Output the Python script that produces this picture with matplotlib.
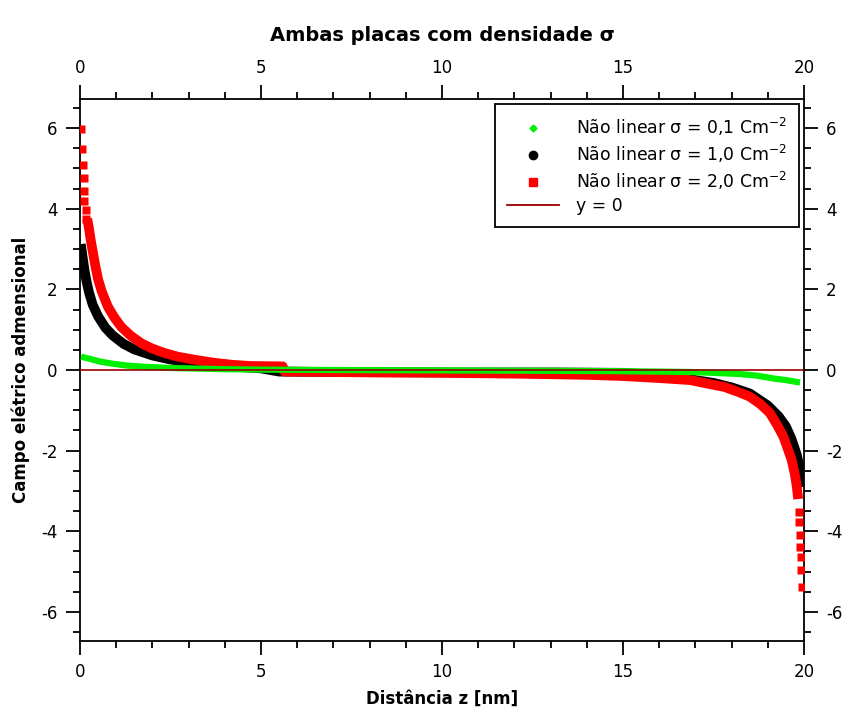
import numpy as np
import matplotlib.pyplot as plt
from matplotlib.lines import Line2D
from matplotlib.ticker import MultipleLocator

# values (z in nm, adimensional field)
green_z = [0.03, 0.3, 0.55, 0.87, 1.29, 1.79, 2.5, 3.0, 4.0, 5.0, 7.0, 10.0, 13.0,
           15.0, 16.0, 16.85, 17.5, 18.23, 18.7, 19.15, 19.5, 19.89]
green_e = [0.33, 0.27, 0.21, 0.16, 0.11, 0.08, 0.05, 0.04, 0.02, 0.01, 0.0, -0.01, -0.02,
           -0.03, -0.04, -0.05, -0.07, -0.10, -0.14, -0.21, -0.25, -0.31]

black_z = [0.02, 0.05, 0.08, 0.12, 0.18, 0.25, 0.35, 0.5, 0.7, 0.9, 1.2, 1.5, 2.0, 2.5,
           3.0, 3.5, 4.0, 4.5, 5.0, 5.5, 7.0, 10.0, 13.0, 15.0, 16.0, 16.5, 17.0, 17.5,
           18.0, 18.5, 19.0, 19.3, 19.5, 19.65, 19.8, 19.9, 19.97]
black_e = [3.12, 2.95, 2.75, 2.5, 2.2, 1.92, 1.62, 1.33, 1.05, 0.86, 0.65, 0.51, 0.36, 0.26,
           0.19, 0.14, 0.10, 0.07, 0.04, -0.04, -0.05, -0.06, -0.06, -0.07, -0.14, -0.19, -0.25, -0.32,
           -0.43, -0.58, -0.88, -1.15, -1.4, -1.7, -2.1, -2.5, -2.9]

red_z = [0.2, 0.25, 0.3, 0.36, 0.43, 0.5, 0.6, 0.77, 0.95, 1.14, 1.4, 1.7, 2.0, 2.34,
         2.7, 3.2, 3.7, 4.2, 4.7, 5.6, 5.65, 8.0, 10.0, 12.0, 14.0, 15.0, 16.0, 16.85,
         17.4, 17.8, 18.2, 18.5, 18.8, 19.06, 19.25, 19.43, 19.55, 19.66, 19.75, 19.8, 19.84]
red_e = [3.75, 3.5, 3.2, 2.9, 2.55, 2.25, 1.95, 1.57, 1.3, 1.07, 0.85, 0.66, 0.53, 0.42,
         0.33, 0.25, 0.18, 0.13, 0.10, 0.09, -0.04, -0.06, -0.07, -0.09, -0.12, -0.15, -0.2, -0.25,
         -0.35, -0.42, -0.55, -0.66, -0.85, -1.07, -1.35, -1.65, -1.95, -2.23, -2.6, -2.89, -3.2]
# isolated squares at both plates
red_tip_z = [0.04, 0.06, 0.07, 0.1, 0.11, 0.12, 0.16, 0.17,
             19.86, 19.87, 19.89, 19.9, 19.91, 19.93, 19.94]
red_tip_e = [5.97, 5.48, 5.08, 4.77, 4.45, 4.18, 3.97, 3.74,
             -3.51, -3.76, -4.09, -4.38, -4.64, -4.96, -5.37]

labels = ['Não linear σ = 0,1 Cm$^{-2}$', 'Não linear σ = 1,0 Cm$^{-2}$',
          'Não linear σ = 2,0 Cm$^{-2}$', 'y = 0']

plt.rcParams['font.family'] = ['DejaVu Sans']
plt.rcParams['mathtext.fontset'] = 'dejavusans'
plt.rcParams['axes.unicode_minus'] = False

fig = plt.figure(figsize=(8.52, 7.19), dpi=100)
ax = fig.add_axes([80/852, 78/719, 724/852, 542/719])

ax.plot(black_z, black_e, color='black', lw=7, solid_capstyle='butt', zorder=2)
ax.plot(red_z, red_e, color='red', lw=7, solid_capstyle='butt', zorder=3)
ax.plot(red_tip_z, red_tip_e, 's', color='red', ms=6, mec='none', zorder=3)
ax.plot(green_z, green_e, color='#00f000', lw=4.5, solid_capstyle='butt', zorder=4)
ax.axhline(0, color='#990000', lw=1.2, zorder=5)

ax.set_xlim(0, 20)
ax.set_ylim(-6.72, 6.72)
ax.xaxis.set_major_locator(MultipleLocator(5))
ax.xaxis.set_minor_locator(MultipleLocator(1))
ax.yaxis.set_major_locator(MultipleLocator(2))
ax.yaxis.set_minor_locator(MultipleLocator(0.5))
ax.tick_params(which='both', direction='out', top=True, right=True,
               labeltop=True, labelright=True, width=1.3, labelsize=12)
ax.tick_params(which='major', length=10, pad=6)
ax.tick_params(which='minor', length=5)
for s in ax.spines.values():
    s.set_linewidth(1.3)

ax.set_xlabel('Distância z [nm]', fontsize=12, fontweight='bold', labelpad=6)
ax.set_ylabel('Campo elétrico admensional', fontsize=12, fontweight='bold', labelpad=8)
ax.set_title('Ambas placas com densidade σ', fontsize=14, fontweight='bold', pad=42)

handles = [Line2D([], [], ls='none', marker='D', ms=3.5, color='#00f000'),
           Line2D([], [], ls='none', marker='o', ms=6, color='black'),
           Line2D([], [], ls='none', marker='s', ms=5.5, color='red'),
           Line2D([], [], color='#990000', lw=1.3)]
leg = ax.legend(handles, labels, loc='upper right', fontsize=12.4, frameon=True,
                fancybox=False, edgecolor='black', framealpha=1, borderaxespad=0.3,
                handlelength=3.0, handletextpad=1.0, labelspacing=0.28, borderpad=0.7)
leg.get_frame().set_linewidth(1.3)

fig.savefig('out.png', dpi=100)
